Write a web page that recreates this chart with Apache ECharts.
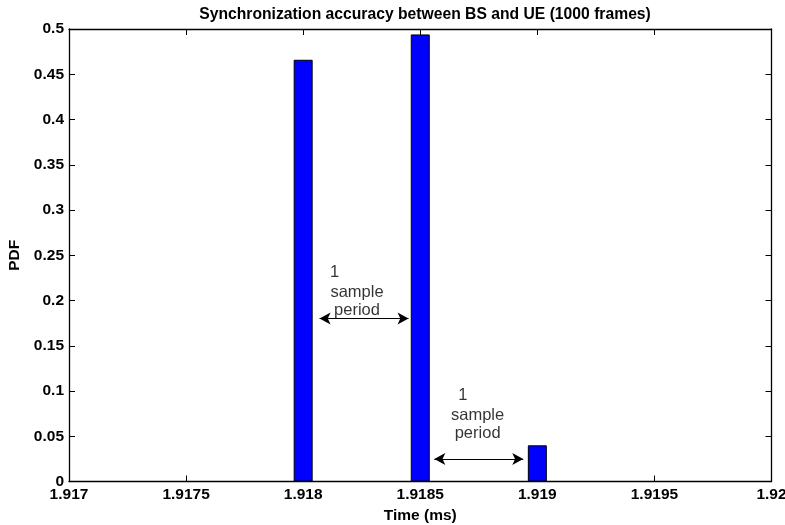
<!DOCTYPE html>
<html><head><meta charset="utf-8">
<script src="https://cdn.jsdelivr.net/npm/echarts@6/dist/echarts.min.js"></script>
<style>html,body{margin:0;padding:0;background:#fff}#c{width:785px;height:525px}</style>
</head><body><div id="c"></div>
<script>
const titleText = 'Synchronization accuracy between BS and UE (1000 frames)';
const xLabel = 'Time (ms)';
const yLabel = 'PDF';
const binCenters = [1.918, 1.9185, 1.919];
const pdfValues = [0.466, 0.494, 0.040];
const xMin = 1.917, xMax = 1.920, xStep = 0.0005;
const yMin = 0, yMax = 0.5, yStep = 0.05;
// annotation arrows: [x1, x2, y]
const arrows = [[1.91807, 1.91845, 0.18], [1.91856, 1.91894, 0.025]];
// annotation text: [x, y, text, align]
const notes = [
  [1.918115, 0.2315, '1', 'left'],
  [1.91823, 0.2085, 'sample', 'center'],
  [1.91823, 0.1885, 'period', 'center'],
  [1.918662, 0.0948, '1', 'left'],
  [1.918745, 0.0725, 'sample', 'center'],
  [1.918745, 0.053, 'period', 'center']
];

const FF = 'Liberation Sans, Arial, Helvetica, sans-serif';
const chart = echarts.init(document.getElementById('c'), null, {renderer: 'canvas'});
const axisLine = {show: true, onZero: false, lineStyle: {color: '#000', width: 1.3}};
const tickIn = {show: true, inside: true, length: 6, lineStyle: {color: '#000', width: 1}};
chart.setOption({
  animation: false,
  backgroundColor: '#fff',
  title: {
    text: titleText, left: 420, top: 2, textAlign: 'center',
    textStyle: {fontFamily: FF, fontSize: 15.7, fontWeight: 'bold', color: '#000'}
  },
  grid: {left: 69, right: 13.5, top: 29, bottom: 43.5, containLabel: false, outerBoundsMode: 'none'},
  xAxis: [{
    type: 'value', min: xMin, max: xMax, interval: xStep,
    name: xLabel, nameLocation: 'middle', nameGap: 25,
    nameTextStyle: {fontFamily: FF, fontSize: 15.5, fontWeight: 'bold', color: '#000'},
    axisLine: axisLine, axisTick: tickIn, splitLine: {show: false},
    axisLabel: {fontFamily: FF, fontSize: 15.5, fontWeight: 'bold', color: '#000', margin: 5, hideOverlap: false}
  }, {
    type: 'value', min: xMin, max: xMax, interval: xStep, position: 'top',
    axisLine: axisLine, axisTick: tickIn, splitLine: {show: false}, axisLabel: {show: false}
  }],
  yAxis: [{
    type: 'value', min: yMin, max: yMax, interval: yStep,
    name: yLabel, nameLocation: 'middle', nameGap: 46,
    nameTextStyle: {fontFamily: FF, fontSize: 15.5, fontWeight: 'bold', color: '#000'},
    axisLine: axisLine, axisTick: tickIn, splitLine: {show: false},
    axisLabel: {fontFamily: FF, fontSize: 15.5, fontWeight: 'bold', color: '#000', margin: 5}
  }, {
    type: 'value', min: yMin, max: yMax, interval: yStep, position: 'right',
    axisLine: axisLine, axisTick: tickIn, splitLine: {show: false}, axisLabel: {show: false}
  }],
  series: [{
    type: 'bar',
    barWidth: 19,
    data: binCenters.map((x, i) => [x, pdfValues[i]]),
    itemStyle: {color: '#0000ff', borderColor: '#000', borderWidth: 1},
    markLine: {
      silent: true,
      symbol: ['arrow', 'arrow'],
      symbolSize: [9, 11],
      label: {show: false},
      lineStyle: {color: '#000', width: 1.2, type: 'solid'},
      data: arrows.map(a => [{coord: [a[0], a[2]]}, {coord: [a[1], a[2]]}])
    }
  }, {
    type: 'scatter',
    symbolSize: 0,
    silent: true,
    data: notes.map(n => ({value: [n[0], n[1]], label: {formatter: n[2], align: n[3]}})),
    label: {
      show: true, position: 'inside',
      fontFamily: FF, fontSize: 16.5, color: '#000', verticalAlign: 'middle'
    }
  }]
});
</script></body></html>
